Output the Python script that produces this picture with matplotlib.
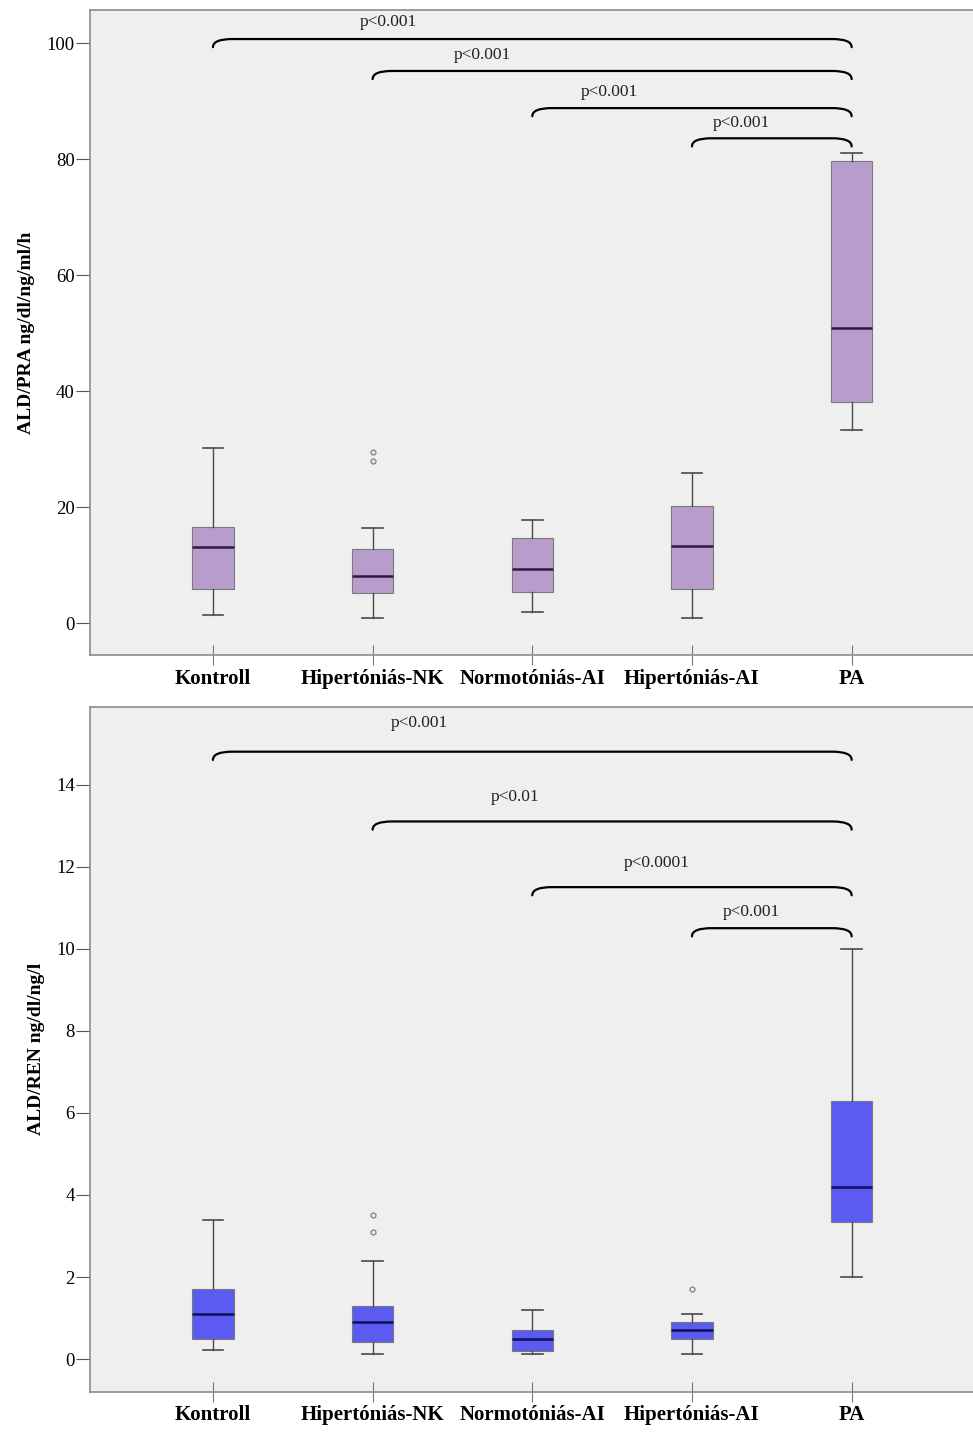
import matplotlib
matplotlib.use("Agg")
import matplotlib.pyplot as plt
from matplotlib.path import Path
import matplotlib.patches as patches

plt.rcParams["font.family"] = ["Liberation Serif", "DejaVu Serif"]

GROUPS = ["Kontroll", "Hipertóniás-NK", "Normotóniás-AI", "Hipertóniás-AI", "PA"]

# ALD/PRA box statistics
pra_whislo = [1.5, 0.9, 1.9, 1.0, 33.3]
pra_q1     = [6.0, 5.3, 5.5, 6.0, 38.1]
pra_med    = [13.1, 8.1, 9.3, 13.4, 50.9]
pra_q3     = [16.7, 12.8, 14.7, 20.3, 79.7]
pra_whishi = [30.2, 16.5, 17.9, 26.0, 81.0]
pra_fliers = [[], [28.0, 29.5], [], [], []]

# ALD/REN box statistics
ren_whislo = [0.22, 0.12, 0.12, 0.12, 2.0]
ren_q1     = [0.49, 0.41, 0.19, 0.49, 3.33]
ren_med    = [1.1, 0.9, 0.5, 0.7, 4.2]
ren_q3     = [1.7, 1.29, 0.7, 0.9, 6.3]
ren_whishi = [3.4, 2.4, 1.19, 1.1, 10.0]
ren_fliers = [[], [3.1, 3.5], [], [1.7], []]

# significance brackets: start group, level, label, label x, label y
pra_brk_from  = [0, 1, 2, 3]
pra_brk_level = [100.7, 95.2, 88.8, 83.6]
pra_brk_text  = ["p<0.001", "p<0.001", "p<0.001", "p<0.001"]
pra_txt_x     = [1.10, 1.69, 2.48, 3.31]
pra_txt_y     = [103.6, 97.9, 91.5, 86.2]

ren_brk_from  = [0, 1, 2, 3]
ren_brk_level = [14.8, 13.1, 11.5, 10.5]
ren_brk_text  = ["p<0.001", "p<0.01", "p<0.0001", "p<0.001"]
ren_txt_x     = [1.29, 1.89, 2.78, 3.37]
ren_txt_y     = [15.5, 13.7, 12.1, 10.9]

BG = "#EFEFEF"
SPINE = "#8C8C8C"


def bracket(ax, x0, x1, y, hook):
    dx = 0.12
    verts = [(x0, y - hook), (x0, y), (x0 + dx, y), (x1 - dx, y),
             (x1, y), (x1, y - hook)]
    codes = [Path.MOVETO, Path.CURVE3, Path.CURVE3, Path.LINETO,
             Path.CURVE3, Path.CURVE3]
    ax.add_patch(patches.PathPatch(Path(verts, codes), fill=False,
                                   lw=1.6, color="black", capstyle="round"))


def panel(ax, lo, q1, med, q3, hi, fliers, face, medc, ylabel,
          yticks, ylim, brk_from, brk_level, brk_text, tx, ty, hook):
    stats = []
    for i in range(len(GROUPS)):
        stats.append(dict(whislo=lo[i], q1=q1[i], med=med[i], q3=q3[i],
                          whishi=hi[i], fliers=fliers[i], label=GROUPS[i]))
    ax.bxp(stats, positions=range(len(GROUPS)), widths=0.26, patch_artist=True,
           boxprops=dict(facecolor=face, edgecolor="#7a7a7a", lw=0.8),
           medianprops=dict(color=medc, lw=1.8),
           whiskerprops=dict(color="#4a4a4a", lw=1.0),
           capprops=dict(color="#4a4a4a", lw=1.2),
           capwidths=0.13,
           flierprops=dict(marker="o", markersize=3.5, markerfacecolor="none",
                           markeredgecolor="#888888", markeredgewidth=1.0))
    ax.set_facecolor(BG)
    ax.set_xlim(-0.77, 4.76)
    ax.set_ylim(*ylim)
    ax.set_yticks(yticks)
    ax.set_xticks(range(len(GROUPS)))
    ax.set_xticklabels(GROUPS, fontsize=15, fontweight="bold")
    ax.tick_params(axis="y", labelsize=13.5, length=10, pad=1, color="#555555")
    ax.tick_params(axis="x", direction="inout", length=15, color="#777777", pad=2)
    ax.set_ylabel(ylabel, fontsize=14, fontweight="bold", labelpad=8)
    for sp in ax.spines.values():
        sp.set_color(SPINE)
        sp.set_linewidth(1.2)
    ax.spines["right"].set_visible(False)
    for s, lv, t, x, y in zip(brk_from, brk_level, brk_text, tx, ty):
        bracket(ax, s, len(GROUPS) - 1, lv, hook)
        ax.text(x, y, t, fontsize=12.5, ha="center", va="center", color="#222222")


fig = plt.figure(figsize=(9.73, 14.34), dpi=100)
ax1 = fig.add_axes([0.0925, 0.543, 0.9075, 0.450])
ax2 = fig.add_axes([0.0925, 0.0293, 0.9075, 0.478])

panel(ax1, pra_whislo, pra_q1, pra_med, pra_q3, pra_whishi, pra_fliers,
      "#B89CCB", "#2E1A47", "ALD/PRA ng/dl/ng/ml/h",
      [0, 20, 40, 60, 80, 100], (-5.5, 105.7),
      pra_brk_from, pra_brk_level, pra_brk_text, pra_txt_x, pra_txt_y, 1.4)

panel(ax2, ren_whislo, ren_q1, ren_med, ren_q3, ren_whishi, ren_fliers,
      "#5B5BF2", "#10105A", "ALD/REN ng/dl/ng/l",
      [0, 2, 4, 6, 8, 10, 12, 14], (-0.8, 15.9),
      ren_brk_from, ren_brk_level, ren_brk_text, ren_txt_x, ren_txt_y, 0.2)

fig.savefig("out.png", dpi=100)
